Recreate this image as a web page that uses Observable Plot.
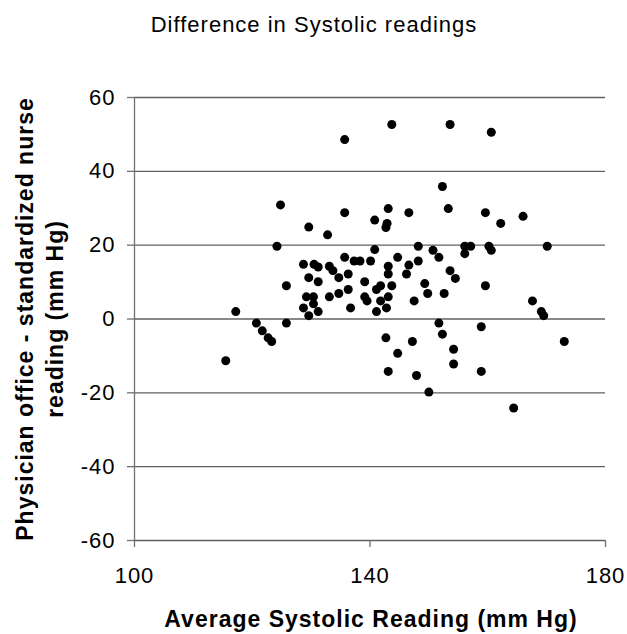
<!DOCTYPE html>
<html><head><meta charset="utf-8">
<script src="https://cdn.jsdelivr.net/npm/d3@7"></script>
<script src="https://cdn.jsdelivr.net/npm/@observablehq/plot@0.6"></script>
<style>body{margin:0;background:#fff} svg{display:block}</style>
</head><body><div id="chart"></div>
<script>
const titleText = "Difference in Systolic readings";
const xTitle = "Average Systolic Reading (mm Hg)";
const yTitleLine1 = "Physician office - standardized nurse";
const yTitleLine2 = "reading (mm Hg)";
const xTicks = [100, 140, 180];
const yTicks = [-60, -40, -20, 0, 20, 40, 60];

const avgSystolic = [
  115.5, 117.2, 120.7, 121.7, 122.7, 123.3, 124.2, 124.8, 125.8, 125.8,
  128.7, 128.7, 129.2, 129.6, 129.6, 129.6, 130.4, 130.4, 130.5, 131.2,
  131.2, 131.2, 132.8, 133.1, 133.1, 133.7, 134.7, 134.7, 135.7, 135.7,
  135.7, 136.3, 136.3, 136.7, 137.3, 138.3, 139.1, 139.1, 139.5, 140.1,
  140.8, 140.8, 141.1, 141.1, 141.8, 141.8, 142.7, 142.9, 142.7, 142.8,
  143.1, 143.1, 143.1, 143.1, 143.1, 143.7, 143.7, 144.7, 144.7, 146.2,
  146.6, 146.6, 147.2, 147.5, 147.9, 148.2, 148.2, 149.3, 149.8, 150.0,
  150.7, 151.7, 151.7, 152.3, 152.3, 152.6, 153.3, 153.6, 153.6, 154.2,
  154.2, 154.5, 156.1, 156.1, 157.1, 158.9, 158.9, 159.6, 159.6, 160.2,
  160.6, 160.6, 162.2, 164.4, 166.0, 167.6, 169.1, 169.5, 170.1, 173.0
];
const difference = [
  -11.3, 2.0, -1.1, -3.2, -5.1, -6.1, 19.7, 30.9, 9.0, -1.1,
  14.8, 3.0, 6.0, 11.2, 0.9, 24.9, 6.0, 4.1, 14.8, 14.1,
  10.1, 2.0, 22.8, 14.3, 6.0, 13.1, 11.2, 6.9, 16.7, 48.6,
  28.8, 12.2, 8.0, 3.0, 15.7, 15.7, 10.1, 6.0, 4.9, 15.7,
  18.8, 26.8, 8.0, 2.0, 9.0, 4.9, 24.8, 25.9, -5.1, 3.0,
  29.9, 14.3, 12.2, 6.0, -14.2, 52.7, 9.0, 16.7, -9.3, 12.2,
  14.6, 28.8, -6.1, 4.9, -15.3, 19.7, 15.7, 9.6, 6.9, -19.8,
  18.6, 16.7, -1.1, 35.9, -4.1, 6.9, 29.9, 52.7, 13.1, -8.2,
  -12.2, 11.0, 19.7, 17.7, 19.7, -2.1, -14.2, 28.8, 9.0, 19.7,
  18.6, 50.6, 25.9, -24.1, 27.8, 4.9, 2.0, 0.9, 19.7, -6.1
];

const data = avgSystolic.map((x, i) => ({x, y: difference[i]}));
const font = "'Liberation Sans', Arial, Helvetica, sans-serif";

const plot = Plot.plot({
  width: 627,
  height: 634,
  marginLeft: 134,
  marginRight: 22,
  marginTop: 97,
  marginBottom: 94,
  style: {fontFamily: font, background: "#fff", color: "#000", letterSpacing: "1px", overflow: "visible"},
  x: {domain: [100, 180]},
  y: {domain: [-60, 60]},
  marks: [
    Plot.ruleY(yTicks, {stroke: "#606060", strokeWidth: 1.3}),
    Plot.ruleX([100], {stroke: "#707070", strokeWidth: 1.3}),
    Plot.axisX({ticks: xTicks, tickSize: 7, tickPadding: 20, fontSize: 22, label: null,
      tickFormat: d => String(d), stroke: "#707070", strokeWidth: 1.3}),
    Plot.axisY({ticks: yTicks, tickSize: 7, tickPadding: 12, fontSize: 22, label: null,
      tickFormat: d => String(d), stroke: "#707070", strokeWidth: 1.3}),
    Plot.dot(data, {x: "x", y: "y", r: 4.5, fill: "#000", stroke: "none"}),
    Plot.text([titleText], {frameAnchor: "top", dx: -56, dy: -73, lineAnchor: "middle",
      textAnchor: "middle", fontSize: 22, fill: "#000"}),
    Plot.text([xTitle], {frameAnchor: "bottom", dx: 1, dy: 79, lineAnchor: "middle",
      textAnchor: "middle", fontSize: 23, fontWeight: "bold", fill: "#000"}),
    Plot.text([yTitleLine1], {frameAnchor: "left", dx: -109, rotate: -90, lineAnchor: "middle",
      textAnchor: "middle", fontSize: 23, fontWeight: "bold", fill: "#000"}),
    Plot.text([yTitleLine2], {frameAnchor: "left", dx: -79, rotate: -90, lineAnchor: "middle",
      textAnchor: "middle", fontSize: 23, fontWeight: "bold", fill: "#000"})
  ]
});
document.getElementById("chart").appendChild(plot);
</script>
</body></html>
